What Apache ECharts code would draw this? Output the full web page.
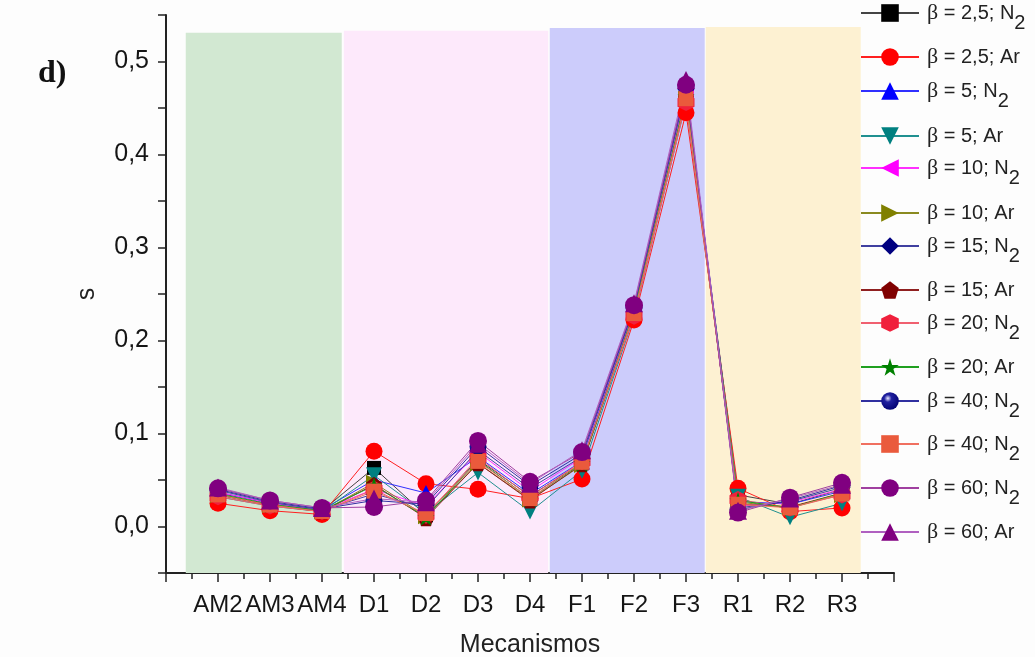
<!DOCTYPE html>
<html>
<head>
<meta charset="utf-8">
<script src="https://cdn.jsdelivr.net/npm/echarts@6/dist/echarts.min.js"></script>
<style>
  html, body { margin: 0; padding: 0; background: #fdfdfd; }
  #chart { width: 1035px; height: 657px; }
</style>
</head>
<body>
<div id="chart"></div>
<script>
const categories = ["AM2", "AM3", "AM4", "D1", "D2", "D3", "D4", "F1", "F2", "F3", "R1", "R2", "R3"];

const b25N2 = [0.036, 0.025, 0.017, 0.063, 0.012, 0.072, 0.033, 0.068, 0.230, 0.462, 0.034, 0.024, 0.040];
const b25Ar = [0.025, 0.017, 0.013, 0.081, 0.046, 0.040, 0.030, 0.051, 0.222, 0.445, 0.041, 0.016, 0.020];
const b5N2 = [0.037, 0.025, 0.018, 0.050, 0.036, 0.075, 0.035, 0.070, 0.234, 0.470, 0.027, 0.024, 0.038];
const b5Ar = [0.032, 0.022, 0.016, 0.055, 0.014, 0.058, 0.016, 0.060, 0.226, 0.456, 0.032, 0.010, 0.025];
const b10N2 = [0.037, 0.025, 0.018, 0.040, 0.022, 0.080, 0.038, 0.074, 0.234, 0.467, 0.022, 0.026, 0.040];
const b10Ar = [0.034, 0.023, 0.016, 0.047, 0.011, 0.068, 0.029, 0.066, 0.229, 0.460, 0.026, 0.021, 0.034];
const b15N2 = [0.039, 0.026, 0.018, 0.035, 0.020, 0.082, 0.041, 0.075, 0.235, 0.470, 0.020, 0.027, 0.042];
const b15Ar = [0.034, 0.023, 0.016, 0.045, 0.009, 0.068, 0.028, 0.067, 0.229, 0.461, 0.024, 0.021, 0.036];
const b20N2 = [0.032, 0.022, 0.016, 0.040, 0.012, 0.074, 0.032, 0.070, 0.226, 0.456, 0.029, 0.020, 0.034];
const b20Ar = [0.035, 0.024, 0.017, 0.044, 0.010, 0.071, 0.030, 0.068, 0.231, 0.463, 0.028, 0.020, 0.036];
const b40N2 = [0.040, 0.027, 0.019, 0.028, 0.024, 0.086, 0.044, 0.078, 0.236, 0.474, 0.018, 0.028, 0.044];
const b40N2b = [0.034, 0.023, 0.016, 0.038, 0.014, 0.070, 0.030, 0.069, 0.229, 0.460, 0.024, 0.020, 0.035];
const b60N2 = [0.041, 0.028, 0.020, 0.021, 0.028, 0.092, 0.048, 0.080, 0.238, 0.475, 0.015, 0.031, 0.047];
const b60Ar = [0.042, 0.028, 0.020, 0.030, 0.026, 0.089, 0.046, 0.082, 0.240, 0.480, 0.017, 0.030, 0.045];

// legend labels: [beta, gas]
const labels = [
  ["2,5", "N2"], ["2,5", "Ar"], ["5", "N2"], ["5", "Ar"], ["10", "N2"], ["10", "Ar"], ["15", "N2"],
  ["15", "Ar"], ["20", "N2"], ["20", "Ar"], ["40", "N2"], ["40", "N2"], ["60", "N2"], ["60", "Ar"]
];

// shaded mechanism groups: [xStart, xEnd, top, colour]
const regions = [
  [0.38, 3.38, 0.531, "#d2e8d2"],
  [3.42, 7.35, 0.533, "#fde9fb"],
  [7.38, 10.36, 0.536, "#ccccfb"],
  [10.38, 13.36, 0.537, "#fdf1d2"]
];

const pentagon = "path://M50,0L97.6,34.5L79.4,90.5L20.6,90.5L2.4,34.5Z";
const hexagon = "path://M50,0L93.3,25L93.3,75L50,100L6.7,75L6.7,25Z";
const star = "path://M50,0L61.2,34.5L97.6,34.5L68.2,55.9L79.4,90.5L50,69.1L20.6,90.5L31.8,55.9L2.4,34.5L38.8,34.5Z";
const sphere = {
  type: "radial", x: 0.38, y: 0.35, r: 0.7,
  colorStops: [
    { offset: 0, color: "#e8e8ff" },
    { offset: 0.3, color: "#2020a0" },
    { offset: 1, color: "#000070" }
  ]
};

const styles = [
  { data: b25N2, symbol: "rect", color: "#000000", line: "#444444", size: 14 },
  { data: b25Ar, symbol: "circle", color: "#ff0000", line: "#ff2020", size: 17 },
  { data: b5N2, symbol: "triangle", color: "#0000ff", line: "#3030ff", size: 16 },
  { data: b5Ar, symbol: "path://M0,0L10,0L5,9Z", color: "#008080", line: "#209090", size: 16 },
  { data: b10N2, symbol: "path://M9,0L9,10L0,5Z", color: "#ff00ff", line: "#ff30ff", size: 16 },
  { data: b10Ar, symbol: "path://M0,0L0,10L9,5Z", color: "#808000", line: "#8a8a20", size: 16 },
  { data: b15N2, symbol: "diamond", color: "#000080", line: "#4040a0", size: 17 },
  { data: b15Ar, symbol: pentagon, color: "#800000", line: "#902020", size: 16 },
  { data: b20N2, symbol: hexagon, color: "#f0203c", line: "#f06070", size: 17 },
  { data: b20Ar, symbol: star, color: "#008000", line: "#20a020", size: 17 },
  { data: b40N2, symbol: "circle", color: sphere, line: "#3030a0", size: 17 },
  { data: b40N2b, symbol: "rect", color: "#ea5a3c", line: "#f07060", size: 15 },
  { data: b60N2, symbol: "circle", color: "#800080", line: "#a040a0", size: 18 },
  { data: b60Ar, symbol: "triangle", color: "#800080", line: "#b060c0", size: 18 }
];

const names = labels.map((l, i) => "β = " + l[0] + "; " + l[1] + "#" + i);
const legendCenters = [22, 66, 100, 145, 177, 222, 255, 299, 332, 376, 410, 453, 497, 541];

const series = styles.map((s, i) => ({
  name: names[i],
  type: "line",
  z: 3,
  data: s.data.map((v, j) => [j + 1, v]),
  symbol: s.symbol,
  symbolSize: s.size,
  showSymbol: true,
  itemStyle: { color: s.color },
  lineStyle: { color: s.line, width: 1 },
  emphasis: { disabled: true },
  animation: false
}));

series.unshift({
  type: "line",
  z: 1,
  data: [],
  silent: true,
  animation: false,
  markArea: {
    silent: true,
    data: regions.map(r => [
      { xAxis: r[0], yAxis: -0.05, itemStyle: { color: r[3] } },
      { xAxis: r[1], yAxis: r[2] }
    ])
  }
});

const textRich = {
  b: { fontFamily: "Liberation Serif", fontSize: 22, color: "#222", padding: [10, 0, 10, 0] },
  m: { fontFamily: "Liberation Sans", fontSize: 20, color: "#222", padding: [10, 0, 10, 0] },
  s: { fontFamily: "Liberation Sans", fontSize: 20, color: "#222", padding: [20, 0, 0, 0] }
};

const legends = names.map((n, i) => ({
  data: [n],
  left: 860,
  top: legendCenters[i] - 20,
  padding: 0,
  itemWidth: 58,
  itemHeight: 22,
  itemGap: 0,
  selectedMode: false,
  formatter: () => {
    const l = labels[i];
    if (l[1] === "N2") return "{b|β}{m| = " + l[0] + "; N}{s|2}";
    return "{b|β}{m| = " + l[0] + "; Ar}";
  },
  textStyle: { rich: textRich, padding: [0, 0, 0, 3] }
}));

const chart = echarts.init(document.getElementById("chart"));
chart.setOption({
  backgroundColor: "#fdfdfd",
  animation: false,
  grid: { left: 166, right: 141, top: 15, bottom: 84, containLabel: false, outerBoundsMode: "none" },
  legend: legends,
  graphic: [
    {
      type: "text", left: 38, top: 58,
      style: { text: "d)", font: "bold 32px 'Liberation Serif'", fill: "#111" }
    }
  ],
  xAxis: {
    type: "value",
    min: 0,
    max: 14,
    interval: 1,
    name: "Mecanismos",
    nameLocation: "middle",
    nameGap: 60,
    nameTextStyle: { fontFamily: "Liberation Sans", fontSize: 25, color: "#222" },
    splitLine: { show: false },
    axisLine: { onZero: false, lineStyle: { color: "#222", width: 2 } },
    axisTick: { length: 9, lineStyle: { color: "#222", width: 1.5 } },
    minorTick: { show: true, splitNumber: 2, length: 6, lineStyle: { color: "#222", width: 1.5 } },
    axisLabel: {
      margin: 20,
      fontFamily: "Liberation Sans",
      fontSize: 24,
      color: "#151515",
      formatter: v => categories[Math.round(v) - 1] || ""
    }
  },
  yAxis: {
    type: "value",
    min: -0.05,
    max: 0.55,
    interval: 0.05,
    name: "s",
    nameLocation: "middle",
    nameGap: 66,
    nameTextStyle: { fontFamily: "Liberation Sans", fontSize: 25, color: "#222" },
    splitLine: { show: false },
    axisLine: { show: true, lineStyle: { color: "#222", width: 2 } },
    axisTick: { length: 8, lineStyle: { color: "#222", width: 1.5 } },
    axisLabel: {
      margin: 17,
      fontFamily: "Liberation Sans",
      fontSize: 25,
      color: "#151515",
      formatter: v => {
        const k = Math.round(v * 100);
        if (k < 0 || k % 10 !== 0) return "";
        return (k / 100).toFixed(1).replace(".", ",");
      }
    }
  },
  series: series
});
</script>
</body>
</html>
